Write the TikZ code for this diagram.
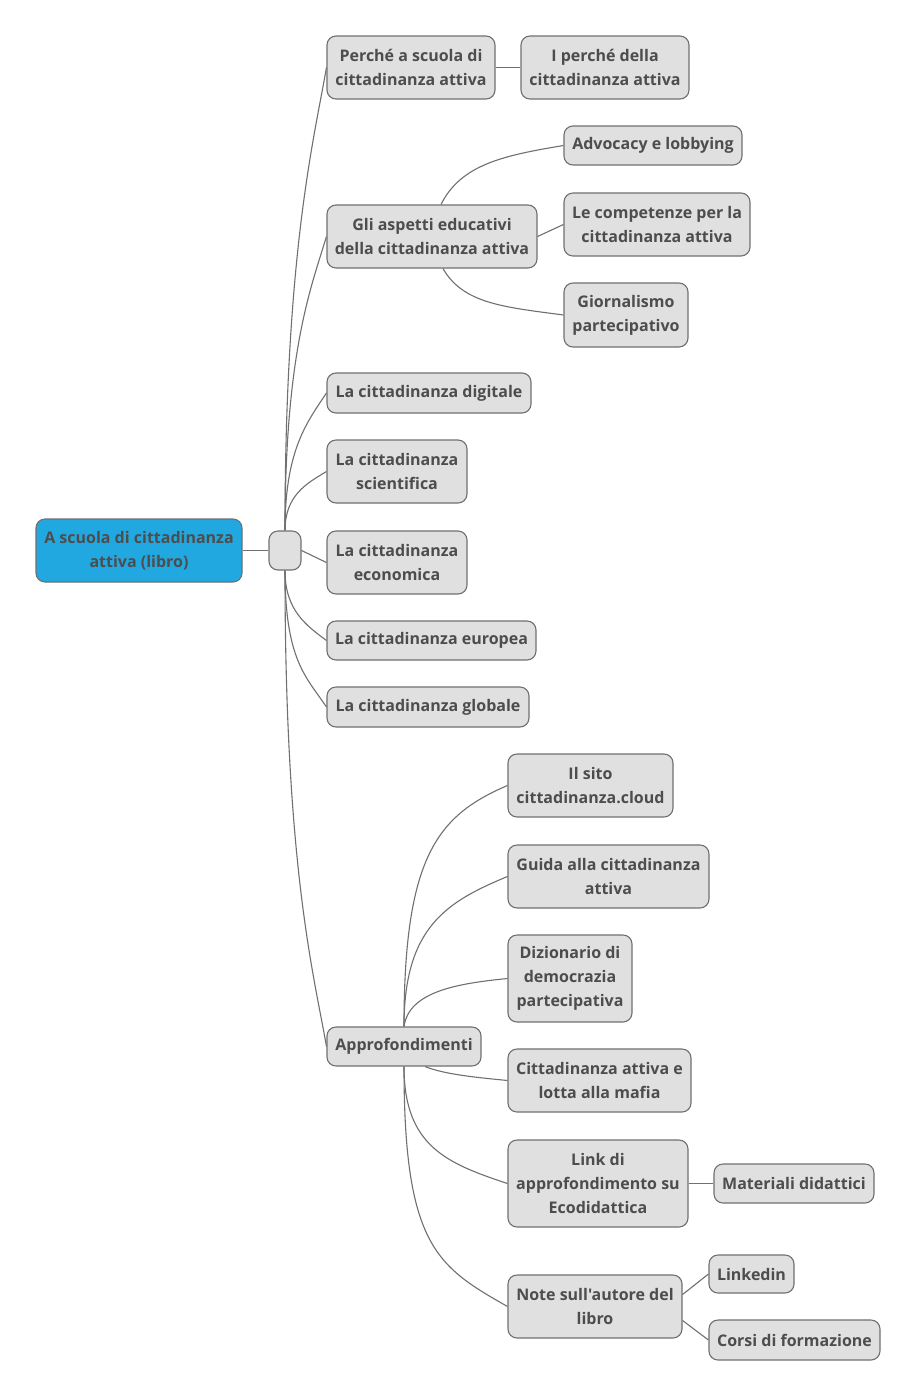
\documentclass[tikz,border=0pt]{standalone}
\usepackage{fontspec}
\setmainfont{Open Sans}[Ligatures=TeXOff]
\definecolor{boxfill}{HTML}{E0E0E0}
\definecolor{boxline}{HTML}{707070}
\definecolor{rootfill}{HTML}{22A8E0}
\definecolor{txt}{HTML}{4D4D4D}
\begin{document}
\begin{tikzpicture}[x=1pt,y=-1pt,
  box/.style={draw=boxline,fill=boxfill,line width=1.1pt,rounded corners=9pt,
    inner sep=0pt,align=center,text=txt,
    font=\fontsize{16}{24}\selectfont\bfseries},
  rootbox/.style={box,fill=rootfill},
  link/.style={draw=boxline,line width=1.1pt}]
\useasboundingbox (0,0) rectangle (918,1398);
\fill[white] (0,0) rectangle (918,1398);
% nodes
\node[rootbox,minimum width=206pt,minimum height=63pt] (root) at (139,550.5) {A scuola di cittadinanza\\attiva (libro)};
\node[box,minimum width=32pt,minimum height=39pt] (hub) at (285,550.5) {};
\node[box,minimum width=168pt,minimum height=63pt] (n1) at (411,67.5) {Perché a scuola di\\cittadinanza attiva};
\node[box,minimum width=168pt,minimum height=63pt] (n1a) at (605,67.5) {I perché della\\cittadinanza attiva};
\node[box,minimum width=210pt,minimum height=63pt] (n2) at (432,236.5) {Gli aspetti educativi\\della cittadinanza attiva};
\node[box,minimum width=178pt,minimum height=39pt] (n2a) at (653,145.5) {Advocacy e lobbying};
\node[box,minimum width=186pt,minimum height=63pt] (n2b) at (657,224.5) {Le competenze per la\\cittadinanza attiva};
\node[box,minimum width=124pt,minimum height=64pt] (n2c) at (626,315) {Giornalismo\\partecipativo};
\node[box,minimum width=204pt,minimum height=40pt] (n3) at (429,393) {La cittadinanza digitale};
\node[box,minimum width=140pt,minimum height=63pt] (n4) at (397,471.5) {La cittadinanza\\scientifica};
\node[box,minimum width=140pt,minimum height=63pt] (n5) at (397,562.5) {La cittadinanza\\economica};
\node[box,minimum width=209pt,minimum height=39pt] (n6) at (431.5,640.5) {La cittadinanza europea};
\node[box,minimum width=202pt,minimum height=40pt] (n7) at (428,707) {La cittadinanza globale};
\node[box,minimum width=154pt,minimum height=39pt] (n8) at (404,1046.5) {Approfondimenti};
\node[box,minimum width=165pt,minimum height=63pt] (n8a) at (590.5,785.5) {Il sito\\cittadinanza.cloud};
\node[box,minimum width=201pt,minimum height=63pt] (n8b) at (608.5,876.5) {Guida alla cittadinanza\\attiva};
\node[box,minimum width=124pt,minimum height=87pt] (n8c) at (570,978.5) {Dizionario di\\democrazia\\partecipativa};
\node[box,minimum width=183pt,minimum height=63pt] (n8d) at (599.5,1080.5) {Cittadinanza attiva e\\lotta alla mafia};
\node[box,minimum width=180pt,minimum height=87pt] (n8e) at (598,1183.5) {Link di\\approfondimento su\\Ecodidattica};
\node[box,minimum width=160pt,minimum height=39pt] (n8e1) at (794,1183.5) {Materiali didattici};
\node[box,minimum width=174pt,minimum height=63pt] (n8f) at (595,1306.5) {Note sull'autore del\\libro};
\node[box,minimum width=85pt,minimum height=38pt] (n8f1) at (751.5,1274) {Linkedin};
\node[box,minimum width=171pt,minimum height=40pt] (n8f2) at (794.5,1340) {Corsi di formazione};
% connectors
\draw[link] (root.east) -- (hub.west);
\draw[link] (hub.north) .. controls +(0,-280) and +(-12,70) .. (n1.west);
\draw[link] (hub.north) .. controls +(0,-180) and +(-15,50) .. (n2.west);
\draw[link] (hub.north) .. controls +(0,-80) and +(-20,30) .. (n3.west);
\draw[link] (hub.north) .. controls +(0,-35) and +(-20,12) .. (n4.west);
\draw[link] (hub.east) -- (n5.west);
\draw[link] (hub.south) .. controls +(0,40) and +(-20,-15) .. (n6.west);
\draw[link] (hub.south) .. controls +(0,90) and +(-20,-30) .. (n7.west);
\draw[link] (hub.south) .. controls +(0,300) and +(-12,-70) .. (n8.west);
\draw[link] (n1.east) -- (n1a.west);
\draw[link] ([xshift=9pt]n2.north) .. controls +(20,-40) and +(-60,10) .. (n2a.west);
\draw[link] (n2.east) -- (n2b.west);
\draw[link] ([xshift=11pt]n2.south) .. controls +(20,35) and +(-60,-8) .. (n2c.west);
\draw[link] (n8.north) .. controls +(0,-170) and +(-70,30) .. (n8a.west);
\draw[link] (n8.north) .. controls +(0,-100) and +(-60,25) .. (n8b.west);
\draw[link] (n8.north) .. controls +(5,-35) and +(-50,5) .. (n8c.west);
\draw[link] ([xshift=21pt]n8.south) .. controls +(20,8) and +(-30,-3) .. (n8d.west);
\draw[link] (n8.south) .. controls +(0,80) and +(-60,-20) .. (n8e.west);
\draw[link] (n8.south) .. controls +(0,180) and +(-70,-40) .. (n8f.west);
\draw[link] (n8e.east) -- (n8e1.west);
\draw[link] ([yshift=12pt]n8f.east) -- (n8f1.west);
\draw[link] ([yshift=-14pt]n8f.east) -- (n8f2.west);
\end{tikzpicture}
\end{document}
